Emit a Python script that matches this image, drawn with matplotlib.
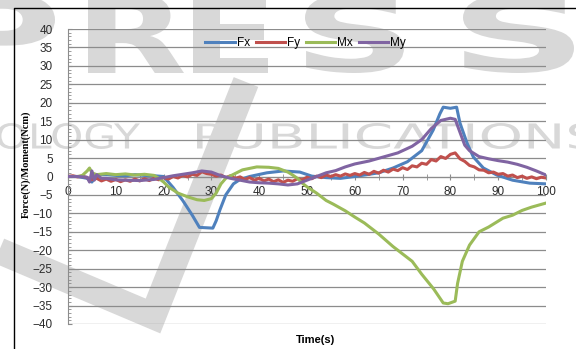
import numpy as np
import matplotlib
matplotlib.use('Agg')
import matplotlib.pyplot as plt
from matplotlib.textpath import TextPath
from matplotlib.patches import PathPatch
from matplotlib.font_manager import FontProperties
from matplotlib.transforms import Affine2D, IdentityTransform
from matplotlib.lines import Line2D

# ---- datos ----
t_fx = [0, 2, 4, 5, 6, 8, 10, 12, 14, 16, 18, 20, 21, 22, 24, 26, 27.5, 30.3, 31, 31.8, 33, 34.6, 36, 38,
        41.6, 45, 48.5, 51, 54, 57, 60, 65, 68, 71, 74, 76.4, 77.8, 78.5, 80, 81.3, 82, 83.5, 84.8, 86.9,
        89.7, 93, 96.6, 100]
fx = [0, 0, -0.5, -1.5, 0.5, 0.5, 0.3, 0.2, 0.5, 0.3, 0.2, 0, -1.5, -3, -6.5, -10.5, -13.8, -14, -12, -9,
      -5, -2, -0.8, 0, 1, 1.5, 1.2, 0.1, -0.3, -0.5, 0, 1, 2.3, 4, 7, 12.6, 17, 18.8, 18.5, 18.8, 14.5,
      9, 5.3, 2.3, 0.4, -1, -1.8, -2]

t_fy = list(range(0, 101))
fy = [0.0, 0.2, -0.1, 0.1, -0.3, -0.9, -0.5, -1.2, -0.7, -1.3, -0.8, -1.4, -0.9, -1.3, -0.7, -1.2, -0.6,
      -1.1, -0.5, -0.9, -0.3, -0.7, 0.0, -0.4, 0.3, -0.1, 0.6, 0.3, 1.3, 0.8, 0.6, 0.1, 0.4, -0.3, 0.2,
      -0.5, -0.1, -0.8, -0.3, -1.0, -0.5, -1.2, -0.7, -1.4, -0.9, -1.6, -1.0, -1.3, -0.6, -0.9, -0.2,
      -0.6, 0.1, -0.3, 0.4, 0.0, 0.5, 0.1, 0.7, 0.3, 0.8, 0.4, 1.1, 0.6, 1.4, 0.9, 1.7, 1.2, 2.0, 1.6,
      2.4, 1.9, 2.9, 2.6, 3.6, 3.3, 4.6, 4.2, 5.4, 4.9, 6.0, 6.4, 4.8, 4.1, 3.0, 2.6, 1.8, 1.7, 1.0, 1.2,
      0.6, 0.8, 0.1, 0.4, -0.3, 0.1, -0.5, -0.1, -0.6, -0.2, -0.4]

t_mx = [0, 2, 3, 4, 4.5, 5, 6, 8, 10, 12, 14, 16, 18, 19, 20, 21, 23, 25, 27, 28.5, 30, 31, 32, 33, 34.5,
        36.5, 39.5, 42, 44, 46, 47, 48, 49, 50, 52, 54, 55.5, 58, 60, 62, 65, 68, 70, 72, 74, 76.5, 78.5,
        79.5, 81, 81.5, 82.5, 84, 86, 88, 91, 93, 95, 97, 100]
mx = [0, 0, 0.3, 1.5, 2.3, 1, 0.5, 0.8, 0.5, 0.7, 0.4, 0.6, 0.3, -0.5, -1.5, -2.8, -4.5, -5.5, -6.3, -6.5,
      -6, -4.5, -2, -0.5, 0.5, 1.8, 2.6, 2.5, 2.2, 1.2, 0.4, -0.5, -1.8, -2.8, -4.5, -6.5, -7.5, -9.3, -11,
      -12.6, -15.6, -19, -21, -23, -26.5, -30.5, -34.3, -34.5, -33.8, -29, -23, -18.6, -15, -13.7, -11.3,
      -10.5, -9.2, -8.3, -7.2]

t_my = [0, 2, 4, 4.5, 5, 5.5, 6, 7, 8, 10, 12, 15, 18, 20, 22, 24, 26, 28, 30, 32, 34, 36, 38, 40, 42, 44,
        46, 48, 50, 52, 54, 56, 58, 60, 63, 66, 69, 72, 74, 76, 78, 80, 81, 82, 83, 84, 86, 88, 90, 92, 94,
        96, 98, 100]
my = [0, 0, -0.2, -1.5, 1.5, -1, 0.5, -0.5, -0.5, -0.9, -1, -1.1, -0.8, -0.3, 0.2, 0.6, 1, 1.5, 1.2, 0.2,
      -0.5, -1, -1.5, -1.7, -1.8, -2, -2.3, -2, -1, 0, 1, 1.6, 2.6, 3.4, 4.2, 5.3, 6.4, 8.2, 10, 13, 15.2,
      15.8, 15.5, 12, 8.5, 7, 5.4, 4.8, 4.3, 3.9, 3.3, 2.5, 1.5, 0.4]

series = [('Fx', t_fx, fx, '#4F81BD'), ('Fy', t_fy, fy, '#C0504D'),
          ('Mx', t_mx, mx, '#9BBB59'), ('My', t_my, my, '#8064A2')]

W, H = 576, 349
fig = plt.figure(figsize=(W / 100, H / 100), dpi=100, facecolor='white')

# ---- marca de agua de fondo ----
gris = '#d8d8d8'

def letra(txt, x0, x1, ytop, ybot, peso):
    # dibuja el texto estirado a la caja dada (coordenadas de imagen)
    tp = TextPath((0, 0), txt, size=100, prop=FontProperties(family='DejaVu Sans', weight=peso))
    ext = tp.get_extents()
    sx = (x1 - x0) / ext.width
    sy = (ybot - ytop) / ext.height
    tr = Affine2D().translate(-ext.x0, -ext.y0).scale(sx, sy).translate(x0, H - ybot)
    fig.add_artist(PathPatch(tr.transform_path(tp), transform=IdentityTransform(),
                             facecolor=gris, edgecolor='none', zorder=-5))

for txt, a, b in [('P', -45, 55), ('R', 88, 184), ('E', 193, 268), ('S', 305, 404), ('S', 463, 574)]:
    letra(txt, a, b, -6, 73, 'bold')
letra('OLOGY', -3, 140, 123, 149, 'normal')
letra('PUBLICATIONS', 197, 598, 123, 149, 'normal')

fig.add_artist(Line2D(np.array([-10, 153, 246]) / W, 1 - np.array([247, 316, 82]) / H,
                      transform=fig.transFigure, color=gris, lw=19, solid_joinstyle='miter',
                      solid_capstyle='butt', zorder=-5))

# marco
fig.add_artist(Line2D([13.5 / W, 13.5 / W, 1], [0, 1 - 7.5 / H, 1 - 7.5 / H], transform=fig.transFigure,
                      color='black', lw=1.0, zorder=10))

# ---- grafico ----
ax = fig.add_axes([68 / W, 1 - 324 / H, (546 - 68) / W, (324 - 29) / H])
ax.set_facecolor('none')

for nombre, t, v, c in series:
    ax.plot(t, v, color=c, lw=2.2, label=nombre, zorder=3)

ax.set_xlim(0, 100)
ax.set_ylim(-40, 40)
ax.set_yticks(np.arange(-40, 41, 5))
ax.set_yticks(np.arange(-40, 41, 1), minor=True)
ax.set_xticks(np.arange(0, 101, 10))
ax.set_xticks(np.arange(0, 101, 5), minor=True)

ax.grid(axis='y', color='#8c8c8c', lw=0.9, zorder=1)
ax.set_axisbelow(True)

for s in ['top', 'right']:
    ax.spines[s].set_visible(False)
ax.spines['left'].set_color('#8c8c8c')
ax.spines['bottom'].set_position(('data', 0))
ax.spines['bottom'].set_color('#8c8c8c')

fuente = 'Liberation Sans'
ax.tick_params(axis='y', which='major', direction='in', length=3, color='#8c8c8c', labelsize=8.5,
               labelcolor='#2b2b2b', pad=11)
ax.tick_params(axis='y', which='minor', direction='in', length=2.5, color='#8c8c8c')
ax.tick_params(axis='x', which='both', direction='inout', length=5, color='#8c8c8c', labelsize=8.5,
               labelcolor='#2b2b2b', pad=4)
for lab in ax.get_xticklabels() + ax.get_yticklabels():
    lab.set_fontfamily(fuente)

ax.legend(loc='upper center', bbox_to_anchor=(0.497, 1.0), ncol=4, frameon=False,
          prop={'family': fuente, 'size': 8.5}, handlelength=2.5, handletextpad=0.15,
          columnspacing=0.5, borderaxespad=0.3)

fig.text(26 / W, 1 - 164 / H, 'Force(N)/Moment(Ncm)', rotation=90, ha='center', va='center',
         fontsize=7.5, fontweight='bold', family='Liberation Serif')
fig.text(315 / W, 1 - 340 / H, 'Time(s)', ha='center', va='center', fontsize=8,
         fontweight='bold', family=fuente)

fig.savefig('out.png', dpi=100, facecolor='white')
